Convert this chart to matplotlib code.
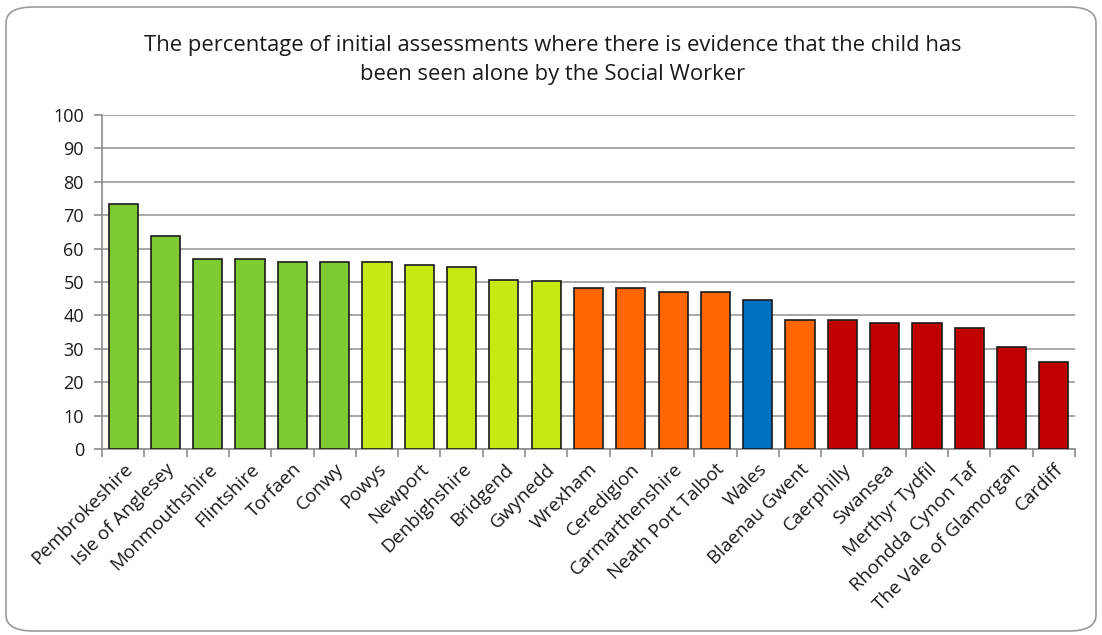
import numpy as np
import matplotlib
matplotlib.use('Agg')
import matplotlib.pyplot as plt
from matplotlib.patches import FancyBboxPatch

plt.rcParams['font.family'] = ['Open Sans', 'DejaVu Sans']

areas = ['Pembrokeshire', 'Isle of Anglesey', 'Monmouthshire', 'Flintshire', 'Torfaen',
         'Conwy', 'Powys', 'Newport', 'Denbighshire', 'Bridgend', 'Gwynedd', 'Wrexham',
         'Ceredigion', 'Carmarthenshire', 'Neath Port Talbot', 'Wales', 'Blaenau Gwent',
         'Caerphilly', 'Swansea', 'Merthyr Tydfil', 'Rhondda Cynon Taf',
         'The Vale of Glamorgan', 'Cardiff']
values = [73.4, 63.8, 57.0, 57.0, 56.0, 56.0, 56.0, 55.1, 54.6, 50.6, 50.2, 48.3,
          48.3, 46.9, 46.9, 44.5, 38.6, 38.6, 37.7, 37.7, 36.2, 30.4, 26.0]
groups = ['g'] * 6 + ['y'] * 5 + ['o'] * 4 + ['w'] + ['o'] + ['r'] * 6
palette = {'g': '#7DCA32', 'y': '#C8E814', 'o': '#FF6600', 'w': '#0070C0', 'r': '#C00000'}

fig = plt.figure(figsize=(11.02, 6.35), dpi=100)
# rounded chart border
fig.patches.append(FancyBboxPatch((6 / 1102, 4 / 635), 1090 / 1102, 624 / 635,
                                  boxstyle='round,pad=0,rounding_size=0.025',
                                  transform=fig.transFigure, fill=False,
                                  edgecolor='#9a9a9a', linewidth=1.2))

ax = fig.add_axes([102 / 1102, 1 - 449 / 635, (1075 - 102) / 1102, (449 - 115) / 635])
x = np.arange(len(areas))
ax.bar(x, values, width=0.69, color=[palette[g] for g in groups],
       edgecolor='#1a1a1a', linewidth=1.2, zorder=3)

ax.set_xlim(-0.5, len(areas) - 0.5)
ax.set_ylim(0, 100)
ax.set_yticks(range(0, 101, 10))
ax.yaxis.grid(True, color='#9a9a9a', linewidth=1.2)
ax.set_axisbelow(True)
for s in ['top', 'right']:
    ax.spines[s].set_visible(False)
for s in ['left', 'bottom']:
    ax.spines[s].set_color('#8c8c8c')
    ax.spines[s].set_linewidth(1.2)

ax.set_xticks(x)
ax.set_xticklabels(areas, rotation=45, ha='right', rotation_mode='anchor', fontsize=13.6,
                   color='#1a1a1a')
ax.tick_params(axis='x', length=0, pad=8)
ax.set_xticks(np.arange(-0.5, len(areas)), minor=True)
ax.tick_params(axis='x', which='minor', length=6, color='#8c8c8c', width=1.2)
ax.tick_params(axis='y', length=6, color='#8c8c8c', width=1.2, labelsize=13,
               labelcolor='#1a1a1a', pad=7)

fig.text(0.5015, 1 - 60 / 635,
         'The percentage of initial assessments where there is evidence that the child has\n'
         'been seen alone by the Social Worker',
         ha='center', va='center', fontsize=15.8, linespacing=1.55, color='#1a1a1a')

plt.savefig('out.png', dpi=100)
